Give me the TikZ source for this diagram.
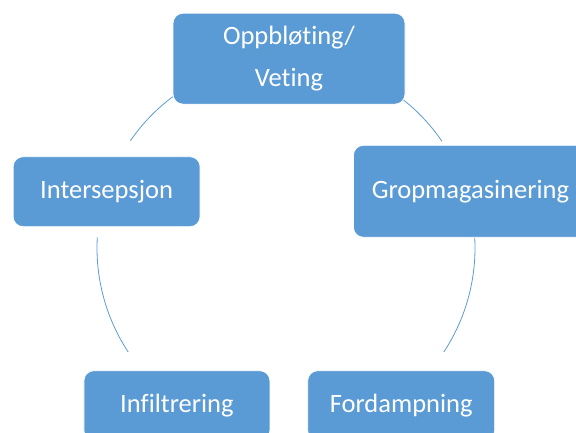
\documentclass[tikz,border=0pt]{standalone}
\usepackage{fontspec}
\setmainfont{Carlito}[Ligatures={NoCommon}]
\definecolor{boxblue}{HTML}{5B9BD5}
\begin{document}
\begin{tikzpicture}[x=1pt,y=1pt,
  stage/.style={rectangle, rounded corners=10pt, fill=boxblue, draw=white, line width=0.8pt,
    text=white, font=\fontsize{26.5}{42}\selectfont, align=center, inner sep=0pt},
  link/.style={draw=boxblue, line width=0.8pt}]
\useasboundingbox (0,0) rectangle (576,433);
\clip (0,0) rectangle (576,433);
\coordinate (c) at (286,185);
% cycle arcs
\draw[link] (c) ++(126.8:189pt) arc[start angle=126.8, end angle=145.4, radius=189pt];
\draw[link] (c) ++(51.7:189pt) arc[start angle=51.7, end angle=34.4, radius=189pt];
\draw[link] (c) ++(176.8:189pt) arc[start angle=176.8, end angle=213.4, radius=189pt];
\draw[link] (c) ++(3.2:189pt) arc[start angle=3.2, end angle=-33.4, radius=189pt];
% stages
\node[stage, minimum width=232pt, minimum height=91pt] (top) at (289,374.3) {Oppbløting/\\Veting};
\node[stage, minimum width=187pt, minimum height=70pt] (inter) at (106.6,241.3) {Intersepsjon};
\node[stage, minimum width=234pt, minimum height=92pt] (grop) at (470.4,241.7) {Gropmagasinering};
\node[stage, minimum width=186pt, minimum height=70pt] (infil) at (176.9,27.3) {Infiltrering};
\node[stage, minimum width=187pt, minimum height=70pt] (ford) at (401.2,27.3) {Fordampning};
\end{tikzpicture}
\end{document}
